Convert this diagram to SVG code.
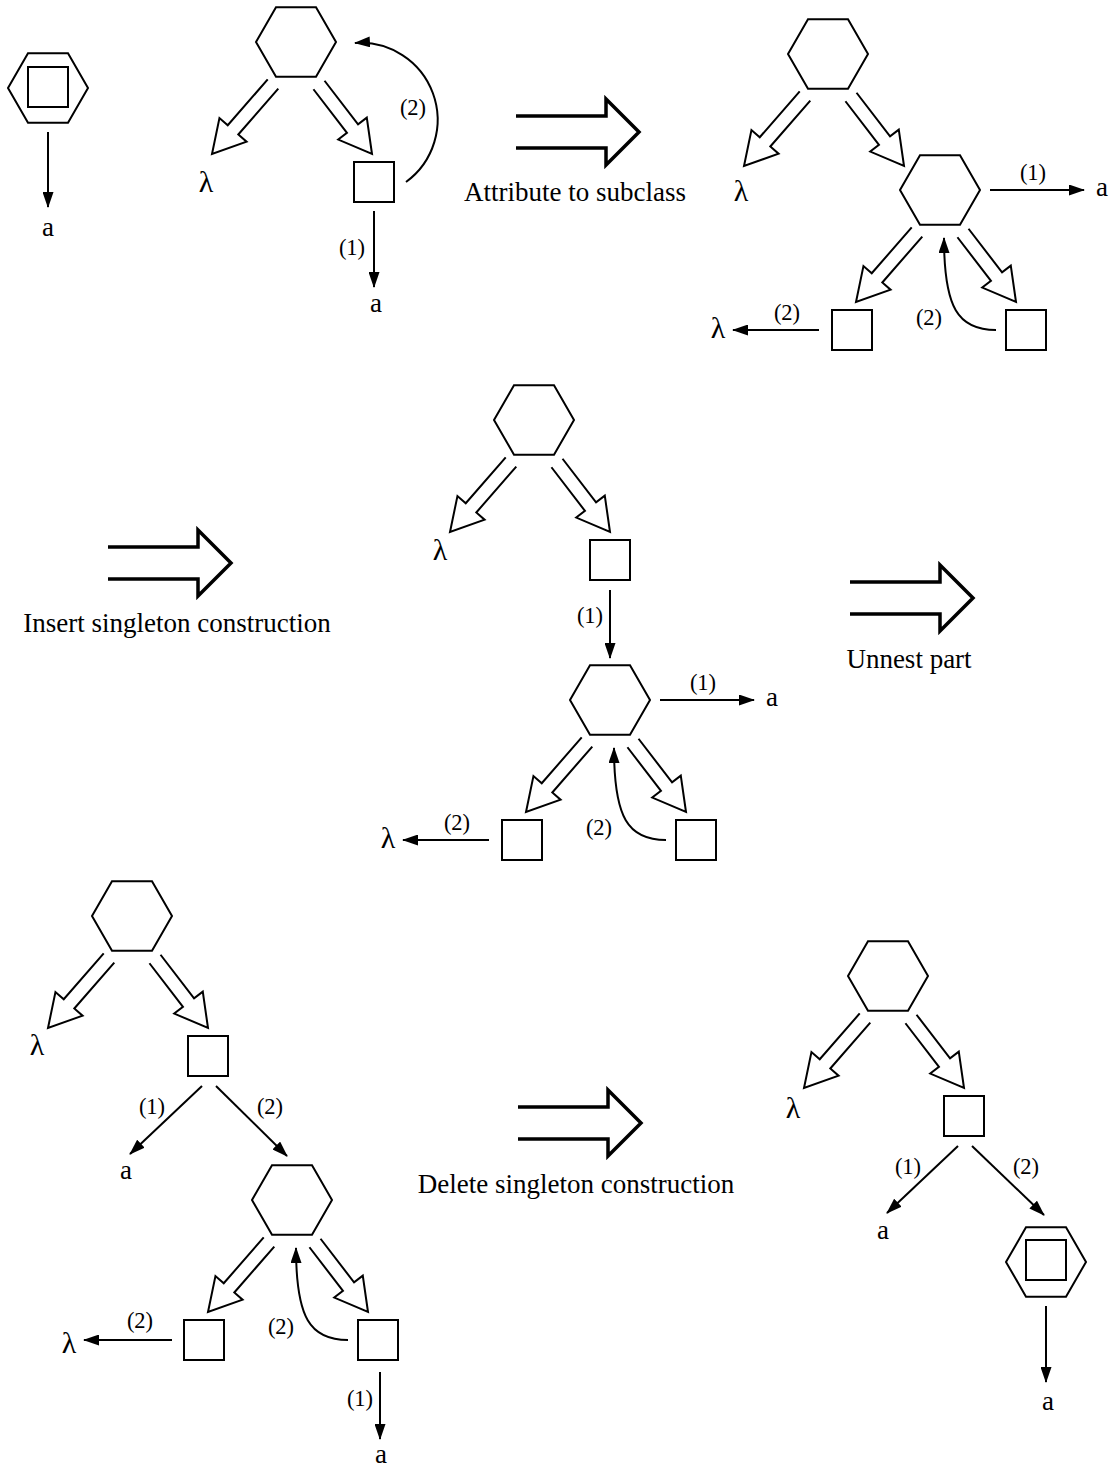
<svg xmlns="http://www.w3.org/2000/svg" width="1119" height="1469" viewBox="0 0 1119 1469">
<style>
.s{fill:none;stroke:#000;stroke-width:2}
.ln{fill:none;stroke:#000;stroke-width:2;marker-end:url(#ah)}
.ho{fill:none;stroke:#000;stroke-width:2;stroke-linejoin:miter}
.big{fill:none;stroke:#000;stroke-width:3.5;stroke-linejoin:miter}
.t{font-family:"Liberation Serif","Times New Roman",serif;font-size:27px;text-anchor:middle;fill:#000}
.lam{font-family:"Liberation Serif","Times New Roman",serif;font-size:30px;text-anchor:middle;fill:#000}
.l{font-family:"Liberation Serif","Times New Roman",serif;font-size:22.5px;text-anchor:middle;fill:#000}
</style>
<defs>
<marker id="ah" viewBox="0 0 16 11" refX="15" refY="5.5" markerWidth="16" markerHeight="11" markerUnits="userSpaceOnUse" orient="auto"><path d="M0,0 L16,5.5 L0,11 z" fill="#000"/></marker>
<polygon id="hex" points="-40,0 -20,-34.64 20,-34.64 40,0 20,34.64 -20,34.64"/>
<polyline id="hl" points="-28.28,37.4 -68.26,83.27 -76.55,76.04 -84,112 -49.41,99.7 -57.7,92.47 -17.72,46.6"/>
<polyline id="hr" points="17.45,47.26 50.96,90.88 42.24,97.58 76,112 70.78,75.66 62.06,82.36 28.55,38.74"/>
<polyline id="bigarrow" points="0,-16 90,-16 90,-33 123,0 90,33 90,16 0,16"/>
</defs>

<g id="connectors">
  <!-- panel 1 -->
  <path class="ln" d="M48,132 V207"/>
  <!-- panel 2 -->
  <use href="#hl" class="ho" transform="translate(296,42)"/>
  <use href="#hr" class="ho" transform="translate(296,42)"/>
  <path class="ln" d="M374,211 V287"/>
  <path class="ln" d="M406,182 A77,77 0 0,0 355,43"/>
  <!-- panel 3 -->
  <use href="#hl" class="ho" transform="translate(828,54)"/>
  <use href="#hr" class="ho" transform="translate(828,54)"/>
  <use href="#hl" class="ho" transform="translate(940,190)"/>
  <use href="#hr" class="ho" transform="translate(940,190)"/>
  <path class="ln" d="M990,190 H1084"/>
  <path class="ln" d="M819,330 H733"/>
  <path class="ln" d="M996,330 C958,330 944,308 944,238"/>
  <!-- panel 4 -->
  <use href="#hl" class="ho" transform="translate(534,420)"/>
  <use href="#hr" class="ho" transform="translate(534,420)"/>
  <path class="ln" d="M610,590 V658"/>
  <use href="#hl" class="ho" transform="translate(610,700)"/>
  <use href="#hr" class="ho" transform="translate(610,700)"/>
  <path class="ln" d="M660,700 H754"/>
  <path class="ln" d="M489,840 H403"/>
  <path class="ln" d="M666,840 C628,840 614,818 614,748"/>
  <!-- panel 5 -->
  <use href="#hl" class="ho" transform="translate(132,916)"/>
  <use href="#hr" class="ho" transform="translate(132,916)"/>
  <path class="ln" d="M202,1086 L130,1154"/>
  <path class="ln" d="M216,1086 L287,1156"/>
  <use href="#hl" class="ho" transform="translate(292,1200)"/>
  <use href="#hr" class="ho" transform="translate(292,1200)"/>
  <path class="ln" d="M172,1340 H84"/>
  <path class="ln" d="M348,1340 C310,1340 296,1318 296,1248"/>
  <path class="ln" d="M380,1372 V1439"/>
  <!-- panel 6 -->
  <use href="#hl" class="ho" transform="translate(888,976)"/>
  <use href="#hr" class="ho" transform="translate(888,976)"/>
  <path class="ln" d="M958,1146 L887,1213"/>
  <path class="ln" d="M972,1146 L1044,1215"/>
  <path class="ln" d="M1046,1306 V1382"/>
</g>

<g id="edge-labels">
  <text class="l" x="352" y="255">(1)</text>
  <text class="l" x="413" y="115">(2)</text>
  <text class="l" x="1033" y="180">(1)</text>
  <text class="l" x="787" y="320">(2)</text>
  <text class="l" x="929" y="325">(2)</text>
  <text class="l" x="590" y="623">(1)</text>
  <text class="l" x="703" y="690">(1)</text>
  <text class="l" x="457" y="830">(2)</text>
  <text class="l" x="599" y="835">(2)</text>
  <text class="l" x="152" y="1114">(1)</text>
  <text class="l" x="270" y="1114">(2)</text>
  <text class="l" x="140" y="1328">(2)</text>
  <text class="l" x="281" y="1334">(2)</text>
  <text class="l" x="360" y="1406">(1)</text>
  <text class="l" x="908" y="1174">(1)</text>
  <text class="l" x="1026" y="1174">(2)</text>
</g>

<g id="transformations">
  <g id="step1"><use href="#bigarrow" class="big" transform="translate(516,132)"/><text class="t" x="575" y="201">Attribute to subclass</text></g>
  <g id="step2"><use href="#bigarrow" class="big" transform="translate(108,563)"/><text class="t" x="177" y="632">Insert singleton construction</text></g>
  <g id="step3"><use href="#bigarrow" class="big" transform="translate(850,598)"/><text class="t" x="909" y="668">Unnest part</text></g>
  <g id="step4"><use href="#bigarrow" class="big" transform="translate(518,1123)"/><text class="t" x="576" y="1193">Delete singleton construction</text></g>
</g>

<!-- panel 1 -->
<g id="p1-singleton"><use href="#hex" class="s" transform="translate(48,88)"/><rect class="s" x="28" y="67" width="40" height="40"/></g>
<g id="p1-a"><text class="t" x="48" y="236">a</text></g>

<!-- panel 2 -->
<g id="p2-hex"><use href="#hex" class="s" transform="translate(296,42)"/></g>
<g id="p2-sq"><rect class="s" x="354" y="162" width="40" height="40"/></g>
<g id="p2-lambda"><text class="lam" x="206" y="192">λ</text></g>
<g id="p2-a"><text class="t" x="376" y="312">a</text></g>

<!-- panel 3 -->
<g id="p3-hex"><use href="#hex" class="s" transform="translate(828,54)"/></g>
<g id="p3-lambda"><text class="lam" x="741" y="201">λ</text></g>
<g id="p3-hex2"><use href="#hex" class="s" transform="translate(940,190)"/></g>
<g id="p3-a"><text class="t" x="1102" y="196">a</text></g>
<g id="p3-sq1"><rect class="s" x="832" y="310" width="40" height="40"/></g>
<g id="p3-sq2"><rect class="s" x="1006" y="310" width="40" height="40"/></g>
<g id="p3-lambda2"><text class="lam" x="718" y="338">λ</text></g>

<!-- panel 4 -->
<g id="p4-hex"><use href="#hex" class="s" transform="translate(534,420)"/></g>
<g id="p4-lambda"><text class="lam" x="440" y="560">λ</text></g>
<g id="p4-sq"><rect class="s" x="590" y="540" width="40" height="40"/></g>
<g id="p4-hex2"><use href="#hex" class="s" transform="translate(610,700)"/></g>
<g id="p4-a"><text class="t" x="772" y="706">a</text></g>
<g id="p4-sq1"><rect class="s" x="502" y="820" width="40" height="40"/></g>
<g id="p4-sq2"><rect class="s" x="676" y="820" width="40" height="40"/></g>
<g id="p4-lambda2"><text class="lam" x="388" y="848">λ</text></g>

<!-- panel 5 -->
<g id="p5-hex"><use href="#hex" class="s" transform="translate(132,916)"/></g>
<g id="p5-lambda"><text class="lam" x="37" y="1055">λ</text></g>
<g id="p5-sq"><rect class="s" x="188" y="1036" width="40" height="40"/></g>
<g id="p5-a"><text class="t" x="126" y="1179">a</text></g>
<g id="p5-hex2"><use href="#hex" class="s" transform="translate(292,1200)"/></g>
<g id="p5-sq1"><rect class="s" x="184" y="1320" width="40" height="40"/></g>
<g id="p5-sq2"><rect class="s" x="358" y="1320" width="40" height="40"/></g>
<g id="p5-lambda2"><text class="lam" x="69" y="1353">λ</text></g>
<g id="p5-a2"><text class="t" x="381" y="1463">a</text></g>

<!-- panel 6 -->
<g id="p6-hex"><use href="#hex" class="s" transform="translate(888,976)"/></g>
<g id="p6-lambda"><text class="lam" x="793" y="1118">λ</text></g>
<g id="p6-sq"><rect class="s" x="944" y="1096" width="40" height="40"/></g>
<g id="p6-a"><text class="t" x="883" y="1239">a</text></g>
<g id="p6-singleton"><use href="#hex" class="s" transform="translate(1046,1262)"/><rect class="s" x="1026" y="1240" width="40" height="40"/></g>
<g id="p6-a2"><text class="t" x="1048" y="1410">a</text></g>
</svg>
